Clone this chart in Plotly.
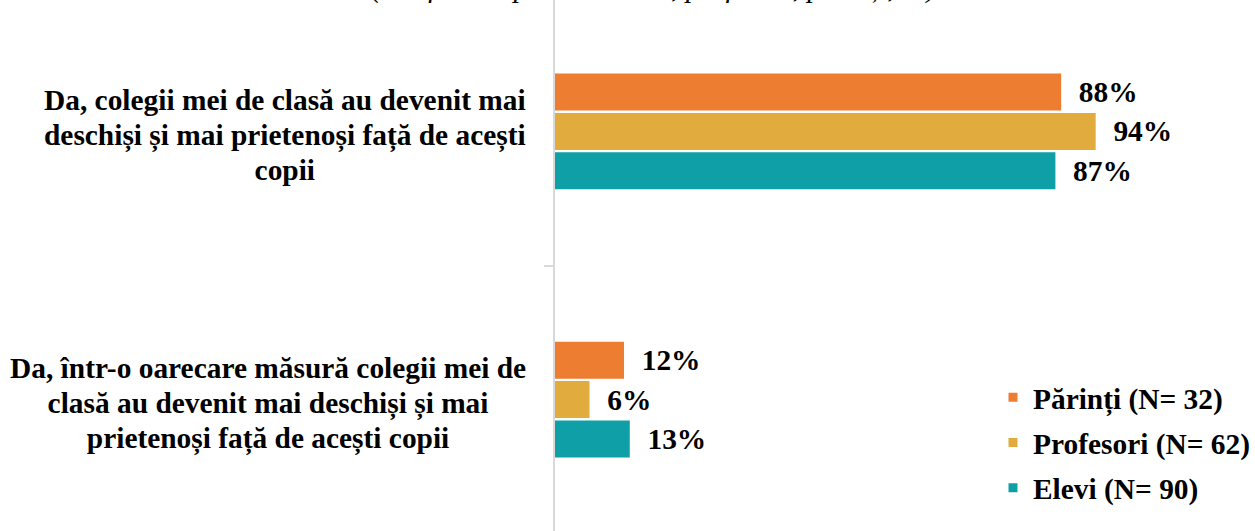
import plotly.graph_objects as go

# ---- data ----
categories = [
    "Da, colegii mei de clasă au devenit mai<br>deschiși și mai prietenoși față de acești<br>copii",
    "Da, într-o oarecare măsură colegii mei de<br>clasă au devenit mai deschiși și mai<br>prietenoși față de acești copii",
]
cat_keys = ["c1", "c2"]
series_names = ["Părinți (N= 32)", "Profesori (N= 62)", "Elevi (N= 90)"]
parinti = [88, 12]
profesori = [94, 6]
elevi = [87, 13]
series_values = [parinti, profesori, elevi]
colors = ["#ED7D31", "#E2AB3D", "#0F9FA6"]
title_text = "(Grafic comparativ: elevi, profesori, părinți, %)"

FONT = "Times New Roman, Liberation Serif, serif"
FS = 29.4


def big_lines(s):
    # each line rendered at FS inside an annotation whose base size sets line spacing
    return "<br>".join(
        f'<span style="font-size:{FS}px"><b>{ln}</b></span>' for ln in s.split("<br>")
    )


fig = go.Figure()
for name, vals, col in zip(series_names, series_values, colors):
    fig.add_trace(go.Bar(
        y=cat_keys, x=vals, orientation="h", name=name,
        marker=dict(color=col, line=dict(width=0)),
        text=vals, texttemplate="\u2002<b>%{x}%</b>", textposition="outside",
        textfont=dict(family=FONT, size=FS, color="black"),
        constraintext="none", cliponaxis=False, showlegend=False,
        hoverinfo="skip",
    ))
# legend-only entries (small square markers)
for i, (name, col) in enumerate(zip(series_names, colors)):
    fig.add_trace(go.Scatter(
        x=[None], y=[None], mode="markers", name="<b>" + name + "</b>",
        legendgroup=f"g{i}",
        marker=dict(symbol="square", size=9, color=col),
    ))

for key, lab in zip(cat_keys, categories):
    fig.add_annotation(
        x=0, xref="paper", y=key, yref="y", text=big_lines(lab),
        showarrow=False, xanchor="right", yanchor="middle", align="center",
        xshift=-27, yshift=-4, font=dict(family=FONT, size=27, color="black"),
    )

fig.add_annotation(
    x=0.5, xref="paper", y=1, yref="paper", text="<i>" + title_text + "</i>",
    showarrow=False, xanchor="center", yanchor="bottom", yshift=-6, xshift=-252,
    font=dict(family=FONT, size=FS, color="black"),
)

fig.update_layout(
    width=1255, height=531,
    margin=dict(l=555, r=0, t=0, b=0),
    paper_bgcolor="white", plot_bgcolor="white",
    barmode="group", bargap=0.56, bargroupgap=0.06,
    font=dict(family=FONT, size=FS, color="black"),
    legend=dict(
        x=1, xanchor="right", y=0.30, yanchor="top",
        font=dict(family=FONT, size=FS, color="black"),
        tracegroupgap=4, bgcolor="rgba(0,0,0,0)",
    ),
    xaxis=dict(range=[0, 121.7], visible=False, fixedrange=True),
    yaxis=dict(
        type="category", categoryorder="array", categoryarray=cat_keys,
        range=[1.49, -0.49], showticklabels=False, fixedrange=True,
        showline=True, linecolor="#D9D9D9", linewidth=1.5,
        ticks="outside", tickson="boundaries", ticklen=9, tickcolor="#D9D9D9",
        tickwidth=1.5, showgrid=False, zeroline=False,
    ),
)

fig.write_html(
    "out.html",
    config={"displayModeBar": False},
    post_script="document.body.style.margin='0';",
)
